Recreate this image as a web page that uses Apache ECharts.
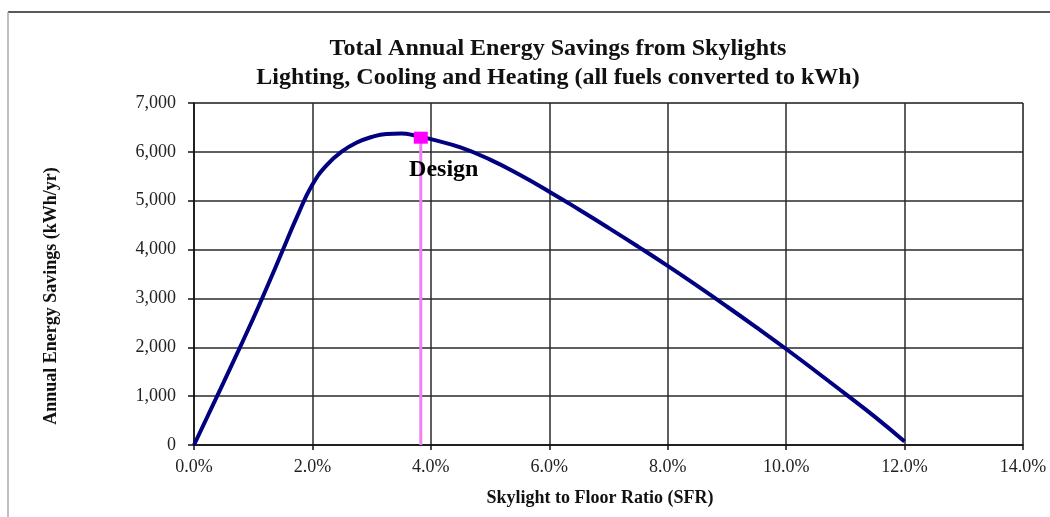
<!DOCTYPE html>
<html>
<head>
<meta charset="utf-8">
<script src="https://cdn.jsdelivr.net/npm/echarts@6/dist/echarts.min.js"></script>
<style>
html,body{margin:0;padding:0;background:#fff;}
#chart{width:1050px;height:517px;}
</style>
</head>
<body>
<div id="chart"></div>
<script>
// Skylight to Floor Ratio (%)
var sfr = [0, 0.5, 1.0, 1.25, 1.5, 1.75, 2.0, 2.25, 2.5, 2.75, 3.0, 3.25, 3.5, 3.75, 4.0, 4.5, 5.0, 5.5, 6.0, 6.5, 7.0, 7.5, 8.0, 8.5, 9.0, 9.5, 10.0, 10.5, 11.0, 11.5, 12.0];
// Annual energy savings (kWh/yr)
var savings = [0, 1280, 2590, 3280, 3990, 4700, 5330, 5740, 6010, 6190, 6305, 6365, 6375, 6330, 6260, 6090, 5840, 5530, 5185, 4820, 4445, 4060, 3665, 3255, 2835, 2405, 1965, 1510, 1045, 575, 70];
var designSfr = 3.83;
var designSavings = 6290;
var designLabel = 'Design';
var titleText = 'Total Annual Energy Savings from Skylights\nLighting, Cooling and Heating (all fuels converted to kWh)';
var xName = 'Skylight to Floor Ratio (SFR)';
var yName = 'Annual Energy Savings (kWh/yr)';

var curve = sfr.map(function (x, i) { return [x, savings[i]]; });
var serif = '"Liberation Serif", "DejaVu Serif", serif';

var chart = echarts.init(document.getElementById('chart'), null, {renderer: 'canvas'});
chart.setOption({
  animation: false,
  backgroundColor: '#ffffff',
  grid: {left: 194, right: 27, top: 103, bottom: 72, show: true, borderColor: '#9a9a9a', borderWidth: 1},
  xAxis: {
    type: 'value', min: 0, max: 14, interval: 2,
    axisLine: {show: true, onZero: false, lineStyle: {color: '#111', width: 1.5}},
    axisTick: {show: true, length: 5, lineStyle: {color: '#111', width: 1.5}},
    axisLabel: {margin: 13, fontFamily: serif, fontSize: 18, color: '#222',
      formatter: function (v) { return v.toFixed(1) + '%'; }},
    splitLine: {show: true, lineStyle: {color: '#2a2a2a', width: 1.5}}
  },
  yAxis: {
    type: 'value', min: 0, max: 7000, interval: 1000,
    axisLine: {show: true, lineStyle: {color: '#111', width: 1.5}},
    axisTick: {show: true, length: 6, lineStyle: {color: '#111', width: 1.5}},
    axisLabel: {margin: 18, fontFamily: serif, fontSize: 18, color: '#222',
      formatter: function (v) { return v.toLocaleString('en-US'); }},
    splitLine: {show: true, lineStyle: {color: '#2a2a2a', width: 1.5}}
  },
  series: [
    {
      type: 'line', z: 2,
      data: [[designSfr, 0], [designSfr, designSavings]],
      symbol: 'none',
      lineStyle: {color: '#ee82ee', width: 3}
    },
    {
      type: 'line', z: 3,
      data: curve,
      smooth: 0.5,
      symbol: 'none',
      lineStyle: {color: '#000080', width: 4}
    },
    {
      type: 'scatter', z: 4,
      data: [[designSfr, designSavings]],
      symbol: 'rect', symbolSize: [14, 12],
      itemStyle: {color: '#ff00ff', opacity: 1},
      label: {show: true, position: 'bottom', distance: 5, offset: [23, 9],
        formatter: designLabel, fontFamily: serif, fontWeight: 'bold', fontSize: 24,
        color: '#000', opacity: 1, textBorderWidth: 0}
    }
  ],
  graphic: [
    {type: 'line', shape: {x1: 8, y1: 12, x2: 1050, y2: 12}, style: {stroke: '#222', lineWidth: 1.5}},
    {type: 'line', shape: {x1: 8, y1: 12, x2: 8, y2: 517}, style: {stroke: '#aaa', lineWidth: 1.5}},
    {type: 'text', x: 558, y: 34, style: {text: titleText, fontFamily: serif, fontWeight: 'bold', fontSize: 24, lineHeight: 29, fill: '#111', textAlign: 'center', textVerticalAlign: 'top'}},
    {type: 'text', x: 600, y: 498, style: {text: xName, fontFamily: serif, fontWeight: 'bold', fontSize: 18, fill: '#111', textAlign: 'center', textVerticalAlign: 'middle'}},
    {type: 'text', x: 51, y: 296, rotation: Math.PI / 2, style: {text: yName, fontFamily: serif, fontWeight: 'bold', fontSize: 18, fill: '#111', textAlign: 'center', textVerticalAlign: 'middle'}}
  ]
});
</script>
</body>
</html>
